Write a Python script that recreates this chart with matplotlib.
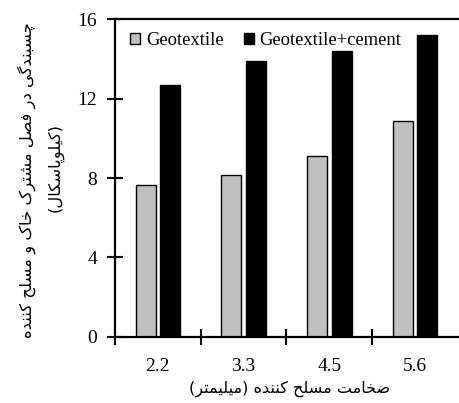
import numpy as np
import matplotlib
matplotlib.use('Agg')
import matplotlib.pyplot as plt

# Data
categories = ['2.2', '3.3', '4.5', '5.6']
geotextile = [7.65, 8.13, 9.1, 10.88]
geotextile_cement = [12.7, 13.9, 14.4, 15.2]
series_names = ['Geotextile', 'Geotextile+cement']
y_ticks = [0, 4, 8, 12, 16]
x_label = 'ضخامت مسلح کننده (میلیمتر)'
y_label = ['چسبندگی در فصل مشترک خاک و مسلح کننده', '(کیلوپاسکال)']

# Minimal Persian shaping (matplotlib has no complex text layout)
# letter: (isolated, final, initial, medial); initial/medial None for right-joining
forms = {
    'ا': ('\uFE8D', '\uFE8E', None, None),
    'ب': ('\uFE8F', '\uFE90', '\uFE91', '\uFE92'),
    'پ': ('\uFB56', '\uFB57', '\uFB58', '\uFB59'),
    'ت': ('\uFE95', '\uFE96', '\uFE97', '\uFE98'),
    'ح': ('\uFEA1', '\uFEA2', '\uFEA3', '\uFEA4'),
    'خ': ('\uFEA5', '\uFEA6', '\uFEA7', '\uFEA8'),
    'چ': ('\uFB7A', '\uFB7B', '\uFB7C', '\uFB7D'),
    'د': ('\uFEA9', '\uFEAA', None, None),
    'ر': ('\uFEAD', '\uFEAE', None, None),
    'س': ('\uFEB1', '\uFEB2', '\uFEB3', '\uFEB4'),
    'ش': ('\uFEB5', '\uFEB6', '\uFEB7', '\uFEB8'),
    'ص': ('\uFEB9', '\uFEBA', '\uFEBB', '\uFEBC'),
    'ض': ('\uFEBD', '\uFEBE', '\uFEBF', '\uFEC0'),
    'ف': ('\uFED1', '\uFED2', '\uFED3', '\uFED4'),
    'ک': ('\uFB8E', '\uFB8F', '\uFB90', '\uFB91'),
    'گ': ('\uFB92', '\uFB93', '\uFB94', '\uFB95'),
    'ل': ('\uFEDD', '\uFEDE', '\uFEDF', '\uFEE0'),
    'م': ('\uFEE1', '\uFEE2', '\uFEE3', '\uFEE4'),
    'ن': ('\uFEE5', '\uFEE6', '\uFEE7', '\uFEE8'),
    'ه': ('\uFEE9', '\uFEEA', '\uFEEB', '\uFEEC'),
    'و': ('\uFEED', '\uFEEE', None, None),
    'ی': ('\uFBFC', '\uFBFD', '\uFBFE', '\uFBFF'),
}


def shape(text):
    out = []
    for i, c in enumerate(text):
        if c not in forms:
            out.append(c)
            continue
        prev = text[i - 1] if i > 0 else ''
        nxt = text[i + 1] if i + 1 < len(text) else ''
        joins_prev = prev in forms and forms[prev][2] is not None
        joins_next = forms[c][2] is not None and nxt in forms
        if joins_prev and joins_next:
            out.append(forms[c][3])
        elif joins_prev:
            out.append(forms[c][1])
        elif joins_next:
            out.append(forms[c][2])
        else:
            out.append(forms[c][0])
    vis = ''.join(reversed(out))
    return vis.translate(str.maketrans('()', ')('))


serif = ['Liberation Serif', 'DejaVu Serif']
fa_font = ['DejaVu Sans']

fig = plt.figure(figsize=(4.59, 4.03), dpi=100)
ax = fig.add_axes([0.2505, 0.1638, 0.7473, 0.789])

x = np.arange(len(categories))
w = 0.235
off = 0.143
ax.bar(x - off, geotextile, w, color='#c0c0c0', edgecolor='black', linewidth=1.0,
       label=series_names[0])
ax.bar(x + off, geotextile_cement, w, color='black', edgecolor='black', linewidth=1.0,
       label=series_names[1])

ax.set_xlim(-0.5, len(categories) - 0.5)
ax.set_ylim(0, 16)
ax.set_yticks(y_ticks)
ax.set_yticklabels([str(t) for t in y_ticks], family=serif, fontsize=14)

# ticks sit on category boundaries, labels in the middle
ax.set_xticks(np.arange(len(categories)) - 0.5)
ax.set_xticklabels([])
ax.set_xticks(x, minor=True)
ax.set_xticklabels(categories, minor=True, family=serif, fontsize=14)
ax.tick_params(axis='x', which='minor', length=0, pad=15)
ax.tick_params(axis='x', which='major', direction='inout', length=11, width=1.5)
ax.tick_params(axis='y', direction='inout', length=12, width=1.5, pad=7)

for side in ['left', 'bottom', 'top']:
    ax.spines[side].set_linewidth(1.6)
ax.spines['right'].set_visible(False)

# axis titles placed as figure text
fig.text(290 / 459, 1 - 389 / 403, shape(x_label), family=fa_font, fontsize=11.5,
         ha='center', va='center')
fig.text(27 / 459, 1 - 180 / 403, shape(y_label[0]), family=fa_font, fontsize=11.75,
         rotation=90, ha='center', va='center')
fig.text(55 / 459, 1 - 167 / 403, shape(y_label[1]), family=fa_font, fontsize=11.75,
         rotation=90, ha='center', va='center')

ax.legend(loc='upper left', bbox_to_anchor=(0.0437, 0.96), ncol=2, frameon=False,
          prop={'family': serif, 'size': 13.4}, handlelength=0.55, handleheight=0.55,
          handletextpad=0.3, columnspacing=1.1, borderaxespad=0, borderpad=0)

fig.savefig('out.png', dpi=100)
